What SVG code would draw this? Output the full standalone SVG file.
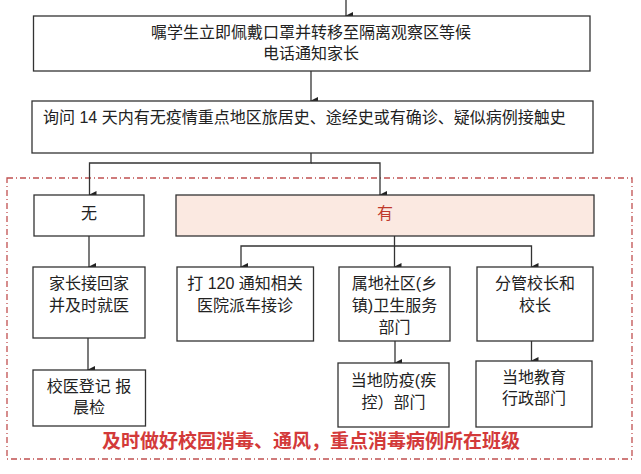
<svg xmlns="http://www.w3.org/2000/svg" width="641" height="474" viewBox="0 0 641 474">
<defs><marker id="a" markerWidth="8" markerHeight="8" refX="4" refY="7" orient="auto" markerUnits="userSpaceOnUse"><path d="M0,0 L8,0 L4,8 z" fill="#222"/></marker></defs>
<style>
rect{fill:#fff;stroke:#333;stroke-width:1.3}
text{font-family:"Liberation Sans","Noto Sans CJK SC",sans-serif;font-size:16px;fill:#222;text-anchor:middle}
.c{fill:none;stroke:#333;stroke-width:1.3}
</style>
<rect x="0" y="0" width="641" height="474" style="stroke:none"/>
<rect x="7" y="178" width="625" height="281" style="fill:none;stroke:#c05050;stroke-dasharray:6,3,1,3"/>
<g id="connectors">
<path class="c" d="M346,0V16" marker-end="url(#a)"/>
<path class="c" d="M311,71V101" marker-end="url(#a)"/>
<path class="c" d="M311,153V163H89.5V195" marker-end="url(#a)"/>
<path class="c" d="M311,163H380V195" marker-end="url(#a)"/>
<path class="c" d="M89,236V267" marker-end="url(#a)"/>
<path class="c" d="M394.5,236V246H241V267" marker-end="url(#a)"/>
<path class="c" d="M394.5,246V267" marker-end="url(#a)"/>
<path class="c" d="M394.5,246H531.5V267" marker-end="url(#a)"/>
<path class="c" d="M88,338V370" marker-end="url(#a)"/>
<path class="c" d="M395,341V363" marker-end="url(#a)"/>
<path class="c" d="M531.5,341V361" marker-end="url(#a)"/>
</g>
<g id="n1"><rect x="33.5" y="16" width="556.5" height="55"/><text x="311" y="38">嘱学生立即佩戴口罩并转移至隔离观察区等候</text><text x="311" y="59">电话通知家长</text></g>
<g id="n2"><rect x="32" y="101" width="561" height="52"/><text x="43" y="123" style="text-anchor:start">询问 14 天内有无疫情重点地区旅居史、途经史或有确诊、疑似病例接触史</text></g>
<g id="n3"><rect x="34" y="195" width="110" height="41"/><text x="89" y="219">无</text></g>
<g id="n4"><rect x="176" y="195" width="418" height="41" style="fill:#fbe9e1"/><text x="385" y="219" style="fill:#c0392b">有</text></g>
<g id="n5"><rect x="33" y="267" width="112" height="71"/><text x="89" y="289">家长接回家</text><text x="89" y="311">并及时就医</text></g>
<g id="n6"><rect x="177" y="267" width="136.5" height="74"/><text x="245" y="289">打 120 通知相关</text><text x="245" y="311">医院派车接诊</text></g>
<g id="n7"><rect x="339" y="267" width="111" height="74"/><text x="394.5" y="289">属地社区(乡</text><text x="394.5" y="311">镇)卫生服务</text><text x="394.5" y="333">部门</text></g>
<g id="n8"><rect x="477" y="267" width="116" height="74"/><text x="535" y="289">分管校长和</text><text x="535" y="311">校长</text></g>
<g id="n9"><rect x="33" y="370" width="112.5" height="56"/><text x="89" y="392">校医登记  报</text><text x="89" y="413">晨检</text></g>
<g id="n10"><rect x="338" y="363" width="111" height="64"/><text x="393.5" y="386">当地防疫(疾</text><text x="393.5" y="408">控）部门</text></g>
<g id="n11"><rect x="476" y="361" width="116" height="66"/><text x="534" y="383">当地教育</text><text x="534" y="404">行政部门</text></g>
<text x="311" y="448" style="font-size:19px;font-weight:bold;fill:#d33a3a">及时做好校园消毒、通风，重点消毒病例所在班级</text>
</svg>
